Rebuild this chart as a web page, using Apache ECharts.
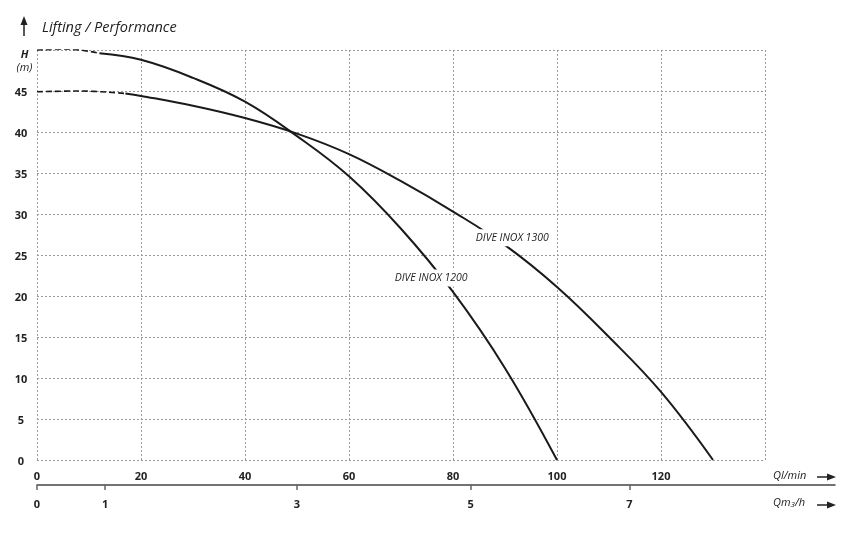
<!DOCTYPE html>
<html>
<head>
<meta charset="utf-8">
<script src="https://cdn.jsdelivr.net/npm/echarts@6/dist/echarts.min.js"></script>
<style>html,body{margin:0;padding:0;background:#fff}#c{width:860px;height:539px}</style>
</head>
<body>
<div id="c"></div>
<script>
// ---- data ----
const seriesNames = ['DIVE INOX 1200', 'DIVE INOX 1300'];
// flow in l/min, head in m
const inox1200Dashed = [[0, 50], [6, 50.1], [12, 49.6]];
const inox1200Solid = [[12, 49.6], [20, 48.8], [30, 46.6], [40, 43.7], [50, 39.5], [60, 34.6], [70, 28.2], [80, 20.5], [90, 11.2], [100, 0]];
const inox1300Dashed = [[0, 44.9], [8, 45], [17, 44.7]];
const inox1300Solid = [[17, 44.7], [20, 44.4], [30, 43.2], [40, 41.7], [50, 39.8], [60, 37.3], [70, 34.0], [80, 30.3], [90, 26.2], [100, 21.1], [110, 15], [120, 8.3], [130, 0]];
// secondary flow scale (m3/h) tick labels and their positions on the l/min scale
const m3hLabels = ['0', '1', '3', '5', '7'];
const m3hAtLmin = [0, 13.1, 50, 83.4, 113.9];
// curve label anchors (data coords)
const labelAnchor1200 = [75.8, 22.2];
const labelAnchor1300 = [91.4, 27.1];

const FONT = "'Open Sans', 'Noto Sans', sans-serif";
const chart = echarts.init(document.getElementById('c'), null, {renderer: 'canvas'});

const gridL = 37, gridR = 95, axis2R = 25;
const xMax = 140;
const x2Max = xMax * (860 - axis2R - gridL) / (860 - gridR - gridL);

const lineCol = '#1a1a1a';
const gridLine = {show: true, lineStyle: {color: '#9a9a9a', type: [2, 2], width: 1}};

function curveLabel(anchor, text) {
  return {
    symbol: 'circle', symbolSize: 1, silent: true,
    itemStyle: {color: 'rgba(0,0,0,0)'},
    data: [{coord: anchor, value: text}],
    label: {
      show: true, position: 'inside', formatter: text,
      fontFamily: FONT, fontStyle: 'italic', fontSize: 10.5, color: '#222',
      backgroundColor: '#fff', padding: [3, 2]
    }
  };
}

function curve(name, data, dashed, mp) {
  const s = {
    name: name, type: 'line', xAxisIndex: 0, yAxisIndex: 0,
    data: data, smooth: 0.4, symbol: 'none',
    lineStyle: dashed ? {color: lineCol, width: 1.6, type: [6, 3]} : {color: lineCol, width: 2}
  };
  if (mp) s.markPoint = mp;
  return s;
}

const option = {
  backgroundColor: '#fff',
  animation: false,
  textStyle: {fontFamily: FONT},
  grid: [
    {left: gridL, right: gridR, top: 50, bottom: 79},
    {left: gridL, right: axis2R, top: 485, height: 0}
  ],
  xAxis: [
    {
      type: 'value', gridIndex: 0, min: 0, max: xMax, interval: 20,
      axisLine: {show: false}, axisTick: {show: false},
      splitLine: gridLine,
      axisLabel: {
        margin: 11, fontSize: 11, fontWeight: 'bold', color: '#222', fontFamily: FONT,
        formatter: v => (v === xMax ? '' : String(v))
      }
    },
    {
      type: 'value', gridIndex: 1, min: 0, max: x2Max,
      axisLine: {show: true, lineStyle: {color: '#444', width: 1.5}},
      axisTick: {show: true, customValues: m3hAtLmin, length: 5, lineStyle: {color: '#666', width: 1.5}},
      splitLine: {show: false},
      axisLabel: {
        customValues: m3hAtLmin, margin: 14, fontSize: 11, fontWeight: 'bold', color: '#222', fontFamily: FONT,
        formatter: v => {
          const i = m3hAtLmin.indexOf(v);
          return i >= 0 ? m3hLabels[i] : '';
        }
      }
    }
  ],
  yAxis: [
    {
      type: 'value', gridIndex: 0, min: 0, max: 50, interval: 5,
      axisLine: {show: false}, axisTick: {show: false},
      splitLine: gridLine,
      axisLabel: {
        align: 'center', margin: 16, fontSize: 11, fontWeight: 'bold', color: '#222', fontFamily: FONT,
        padding: [4, 0, 0, 0],
        formatter: v => (v === 50 ? '{sp|}\n{h|H}\n{m|(m)}' : String(v)),
        rich: {
          sp: {lineHeight: 18},
          h: {fontStyle: 'italic', fontWeight: 'bold', fontSize: 11, lineHeight: 13, color: '#222', padding: [0, 0, 0, 7], fontFamily: FONT},
          m: {fontStyle: 'italic', fontWeight: 'normal', fontSize: 11, lineHeight: 13, color: '#222', padding: [0, 0, 0, 7], fontFamily: FONT}
        }
      }
    },
    {type: 'value', gridIndex: 1, show: false}
  ],
  series: [
    curve(seriesNames[0] + ' (ext)', inox1200Dashed, true),
    curve(seriesNames[0], inox1200Solid, false, curveLabel(labelAnchor1200, seriesNames[0])),
    curve(seriesNames[1] + ' (ext)', inox1300Dashed, true),
    curve(seriesNames[1], inox1300Solid, false, curveLabel(labelAnchor1300, seriesNames[1]))
  ],
  graphic: [
    // title
    {type: 'text', left: 42, top: 20, style: {text: 'Lifting / Performance', fontFamily: FONT, fontStyle: 'italic', fontSize: 14.5, fill: '#222'}},
    // up arrow
    {type: 'line', shape: {x1: 24, y1: 24, x2: 24, y2: 36}, style: {stroke: '#222', lineWidth: 1.5}},
    {type: 'polygon', shape: {points: [[24, 16], [20.5, 25], [27.5, 25]]}, style: {fill: '#222'}},
    // flow unit labels
    {type: 'text', left: 773, top: 470, style: {text: 'Ql/min', fontFamily: FONT, fontStyle: 'italic', fontSize: 11, fill: '#222'}},
    {type: 'line', shape: {x1: 817, y1: 477, x2: 830, y2: 477}, style: {stroke: '#222', lineWidth: 1.5}},
    {type: 'polygon', shape: {points: [[836, 477], [827, 473.5], [827, 480.5]]}, style: {fill: '#222'}},
    {type: 'text', left: 773, top: 497, style: {
      text: '{q|Qm}{s|3}{q|/h}', fontFamily: FONT, fontStyle: 'italic', fontSize: 11, fill: '#222',
      rich: {q: {fontFamily: FONT, fontStyle: 'italic', fontSize: 11, fill: '#222', verticalAlign: 'bottom'},
             s: {fontFamily: FONT, fontStyle: 'italic', fontSize: 8, fill: '#222', verticalAlign: 'bottom', padding: [0, 0, -1, 0]}}
    }},
    {type: 'line', shape: {x1: 817, y1: 505, x2: 830, y2: 505}, style: {stroke: '#222', lineWidth: 1.5}},
    {type: 'polygon', shape: {points: [[836, 505], [827, 501.5], [827, 508.5]]}, style: {fill: '#222'}}
  ]
};
chart.setOption(option);
</script>
</body>
</html>
